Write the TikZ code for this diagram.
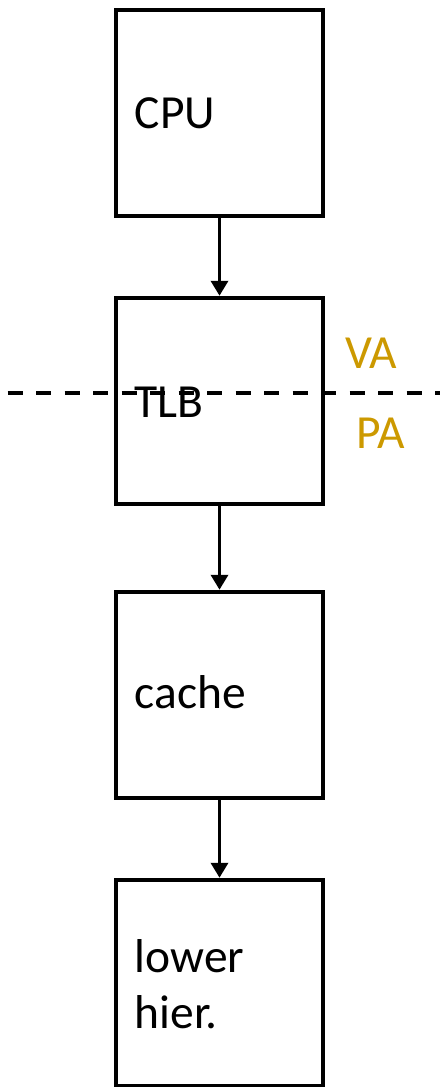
\documentclass[tikz,border=0pt]{standalone}
\usepackage{fontspec}
\setmainfont{Carlito}
\usetikzlibrary{arrows.meta}
\definecolor{gold}{RGB}{204,153,0}
\tikzset{
  unitbox/.style={draw=black, line width=4pt, minimum width=207pt, minimum height=206.5pt, inner sep=0pt},
  lbl/.style={anchor=base west, inner sep=0pt, font=\fontsize{47.5}{56}\selectfont, text=black},
  glbl/.style={anchor=base west, inner sep=0pt, font=\fontsize{47.5}{56}\selectfont, text=gold},
  flow/.style={line width=3.5pt, -{Triangle[length=15pt,width=17pt]}},
  split/.style={line width=3.6pt, dash pattern=on 15pt off 13.5pt, dash phase=21pt}
}
\begin{document}
\begin{tikzpicture}[x=1pt,y=-1pt]
\useasboundingbox (0,0) rectangle (440,1087);
\node[unitbox] (cpu) at (219.5,113) {};
\node[unitbox] (tlb) at (219.5,401) {};
\node[unitbox] (cache) at (219.5,695) {};
\node[unitbox] (lower) at (219.5,983) {};
\node[lbl] (cput) at (134.5,128.5) {CPU};
\node[lbl] (tlbt) at (134.5,417) {TLB};
\node[lbl] (cachet) at (134.5,708.5) {cache};
\node[lbl, align=left] (lowert) at (134.5,1028) {lower\\hier.};
\node[glbl] (va) at (345,368) {VA};
\node[glbl] (pa) at (356,448) {PA};
\draw[flow] (cpu.south) -- (tlb.north);
\draw[flow] (tlb.south) -- (cache.north);
\draw[flow] (cache.south) -- (lower.north);
\coordinate (dl) at (0,393);
\coordinate (dr) at (440,393);
\draw[split] (dl) -- (dr);
\end{tikzpicture}
\end{document}
